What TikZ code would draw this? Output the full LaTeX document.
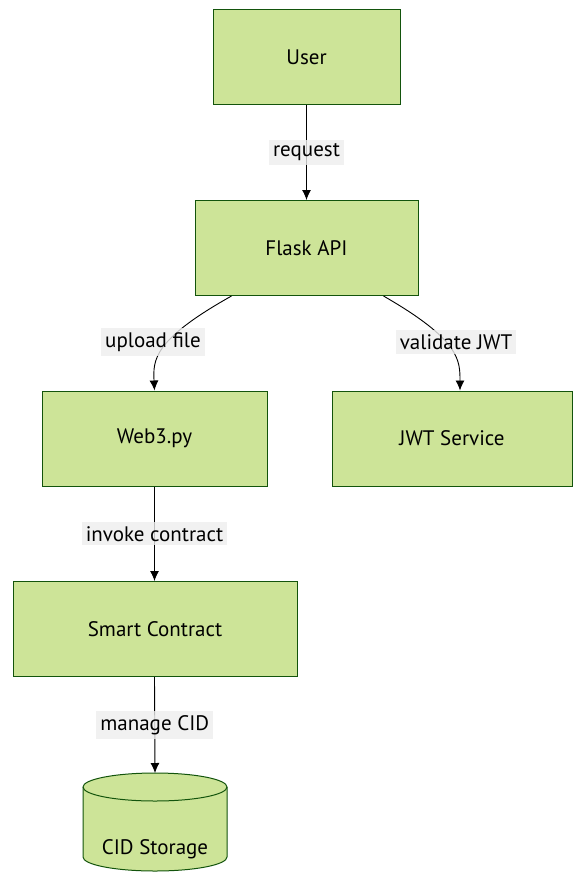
\documentclass[tikz,border=0pt]{standalone}
\usepackage{fontspec}
\setmainfont{PT Sans}
\usepackage{tikz}
\usetikzlibrary{calc,arrows.meta}
\definecolor{boxfill}{HTML}{CDE498}
\definecolor{boxline}{HTML}{13540C}
\definecolor{labelbg}{HTML}{EDEDED}

\tikzset{
  comp/.style={draw=boxline, fill=boxfill, line width=1pt, minimum height=95pt},
  lbl/.style={fill=labelbg, fill opacity=0.8, text opacity=1, inner sep=4pt},
  flow/.style={-{Latex[length=10pt, width=9pt]}, line width=0.9pt}
}

\begin{document}
\begin{tikzpicture}[x=1pt, y=-1pt, font=\fontsize{21}{25}\selectfont]
    \useasboundingbox (0,0) rectangle (576,873);
    % Define boxes
    \node[comp, minimum width=187pt] (user) at (306.5,57) {User};
    \node[comp, minimum width=223pt] (flask) at (306.5,248) {Flask API};
    \node[comp, minimum width=225pt] (web3) at (154.5,438.5) {Web3.py};
    \node[comp, minimum width=240pt] (jwt) at (452,438.5) {JWT Service};
    \node[comp, minimum width=284pt] (smart) at (155,629) {Smart Contract};
    % Storage cylinder
    \filldraw[draw=boxline, fill=boxfill, line width=1pt]
    (83,787) -- (83,857) arc[start angle=180, end angle=0, x radius=72, y radius=14]
    -- (227,787) arc[start angle=0, end angle=-180, x radius=72, y radius=14] -- cycle;
    \draw[boxline, line width=1pt] (83,787) arc[start angle=180, end angle=0, x radius=72, y radius=14];
    \coordinate (cidtop) at (155,773);
    \node (cid) at (155,849) {CID Storage};
    %Draw flows
    \draw[flow] (user.south) -- (flask.north) node[lbl, pos=0.5] {request};
    \draw[flow] ($(flask.south west)+(37,0)$) .. controls (153,340) and (153,360) .. (web3.north);
    \node[lbl] at (153,342) {upload file};
    \draw[flow] ($(flask.south east)+(-35,0)$) .. controls (460,340) and (460,360) .. ($(jwt.north)+(8,0)$);
    \node[lbl] at (456,342) {validate JWT};
    \draw[flow] (web3.south) -- (smart.north -| web3.south) node[lbl, pos=0.5] {invoke contract};
    \draw[flow] (smart.south -| web3.south) -- (cidtop) node[lbl, pos=0.5] {manage CID};
  \end{tikzpicture}
\end{document}
